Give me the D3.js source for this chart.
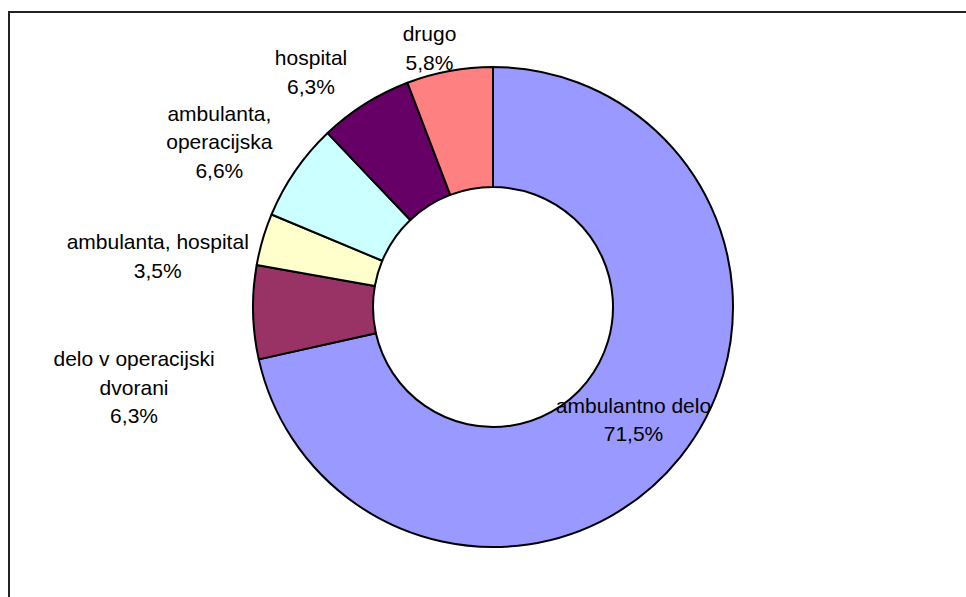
<!DOCTYPE html>
<html>
<head>
<meta charset="utf-8">
<script src="https://cdn.jsdelivr.net/npm/d3@7"></script>
<style>
  body { margin: 0; background: #fff; }
  svg { display: block; }
  text { font-family: "Liberation Sans", Arial, sans-serif; font-size: 21px; fill: #000; }
</style>
</head>
<body>
<div id="chart"></div>
<script>
// data
var categories = ["ambulantno delo", "delo v operacijski dvorani", "ambulanta, hospital",
                  "ambulanta, operacijska", "hospital", "drugo"];
var values = [71.5, 6.3, 3.5, 6.6, 6.3, 5.8];
var labelLines = [["ambulantno delo"], ["delo v operacijski", "dvorani"], ["ambulanta, hospital"],
                  ["ambulanta,", "operacijska"], ["hospital"], ["drugo"]];
var colors = ["#9999FF", "#993366", "#FFFFCC", "#CCFFFF", "#660066", "#FF8080"];

// label placement (outside labels get shifted from the rim like excel does)
var labelNudge = [[0, 0], [-119, 75], [-105, 17], [-76, -29], [-54, -32], [-20, -23]];

function showPieChart() {
  var width = 966, height = 597;
  var cx = 493, cy = 307;
  var outerR = 240, innerR = 120;
  var lineH = 28.5;

  var svg = d3.select("#chart")
    .append("svg")
      .attr("width", width)
      .attr("height", height);

  // chart frame
  svg.append("rect")
    .attr("x", 9).attr("y", 12)
    .attr("width", 1000).attr("height", 1000)
    .attr("fill", "none")
    .attr("stroke", "#222")
    .attr("stroke-width", 2);

  var data = categories.map(function(c, i) {
    return { name: c, value: values[i], color: colors[i], lines: labelLines[i].concat([d3.format(".1f")(values[i]).replace(".", ",") + "%"]), nudge: labelNudge[i] };
  });

  var pie = d3.pie()
    .sort(null)
    .value(function(d) { return d.value; });

  var arc = d3.arc().innerRadius(innerR).outerRadius(outerR);
  var rim = d3.arc().innerRadius(outerR).outerRadius(outerR);

  var g = svg.append("g").attr("transform", "translate(" + cx + "," + cy + ")");

  var arcs = pie(data);

  g.selectAll("path")
    .data(arcs)
    .enter()
    .append("path")
      .attr("d", arc)
      .attr("fill", function(d) { return d.data.color; })
      .attr("stroke", "#000")
      .attr("stroke-width", 2)
      .attr("stroke-linejoin", "round");

  // labels: biggest slice inside at centroid, the rest outside near the rim
  var labels = g.selectAll("g.lbl")
    .data(arcs)
    .enter()
    .append("g")
      .attr("class", "lbl")
      .attr("transform", function(d, i) {
        var p = i == 0 ? arc.centroid(d) : rim.centroid(d);
        return "translate(" + (p[0] + d.data.nudge[0]) + "," + (p[1] + d.data.nudge[1]) + ")";
      });

  labels.each(function(d) {
    var n = d.data.lines.length;
    d3.select(this).selectAll("text")
      .data(d.data.lines)
      .enter()
      .append("text")
        .attr("text-anchor", "middle")
        .attr("y", function(t, k) { return (k - (n - 1) / 2) * lineH; })
        .attr("dy", "0.35em")
        .text(function(t) { return t; });
  });
}

showPieChart();
</script>
</body>
</html>
